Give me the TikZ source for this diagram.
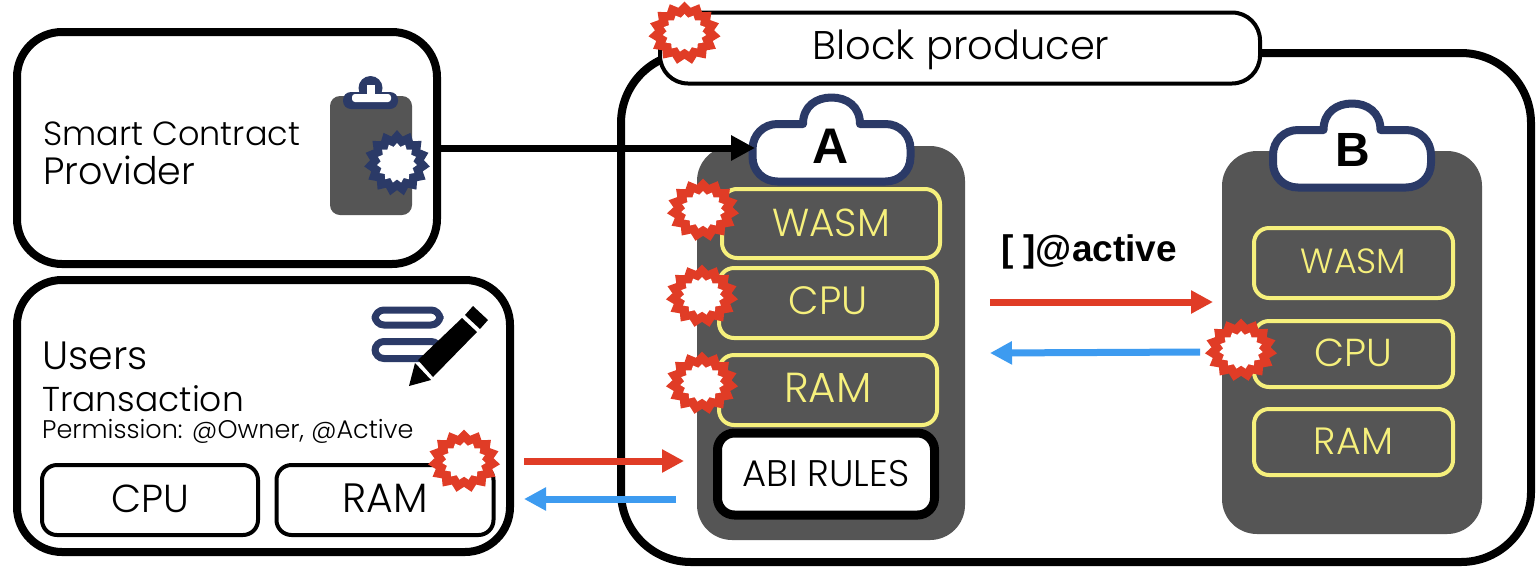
\documentclass[tikz,border=0pt]{standalone}
\usepackage{fontspec}
\setmainfont{Poppins Light}
\newfontfamily\boldf{Liberation Sans}[BoldFont=* Bold]
\usetikzlibrary{arrows.meta,shapes.geometric}
\definecolor{navy}{HTML}{2B3A67}
\definecolor{panel}{HTML}{555555}
\definecolor{burstred}{HTML}{E03C26}
\definecolor{arrowblue}{HTML}{3D9BF0}
\definecolor{softyellow}{HTML}{F6F07C}
\newcommand\fs[1]{\fontsize{#1}{#1}\selectfont}
\newcommand\up[1]{\raisebox{#1pt}}
\newcommand\cloudshape{(-28.5,0) -- (-54,0) .. controls (-68,0) and (-79,11) .. (-79,25) -- (-79,33) .. controls (-79,47) and (-68,57.5) .. (-54,57.5) -- (54,57.5) .. controls (68,57.5) and (79,47) .. (79,33) -- (79,25) .. controls (79,11) and (68,0) .. (54,0) -- (28.5,0) .. controls (28.5,-18) and (15,-26.5) .. (0,-26.5) .. controls (-15,-26.5) and (-28.5,-18) .. (-28.5,0) -- cycle}
\tikzset{
  x=1pt,y=-1pt,
  bigbox/.style={draw=black,line width=8pt,fill=white,rectangle,inner sep=0pt},
  smallbox/.style={draw=black,line width=4pt,fill=white,rectangle,rounded corners=15pt,inner sep=0pt,text=black},
  yelbox/.style={draw=softyellow,line width=4pt,fill=panel,rectangle,rounded corners=15pt,inner sep=0pt,text=softyellow},
  panelbox/.style={fill=panel,rectangle,rounded corners=35pt,inner sep=0pt},
  burstred/.style={star,star points=15,star point ratio=1.22,inner sep=0pt,transform shape,xscale=1.15},
  burstnavy/.style={star,star points=15,star point ratio=1.22,inner sep=0pt},
  cloudline/.style={draw=navy,line width=8pt,fill=white,line join=round},
  redarrow/.style={draw=burstred,line width=7pt,-{Triangle[length=22pt,width=22pt]}},
  bluearrow/.style={draw=arrowblue,line width=7pt,-{Triangle[length=22pt,width=22pt]}},
  blackarrow/.style={draw=black,line width=7pt,-{Triangle[length=24pt,width=24pt]}},
  pill/.style={draw=navy,line width=7pt,rectangle,rounded corners=9pt,inner sep=0pt,minimum width=65pt},
  txt/.style={inner sep=0pt,anchor=base west,text=black},
}
\begin{document}
\begin{tikzpicture}
\useasboundingbox (0,0) rectangle (1538,574);
% outer boxes
\node[bigbox,rounded corners=45pt,minimum width=420pt,minimum height=232pt] (contract) at (227,148) {};
\node[bigbox,rounded corners=45pt,minimum width=493pt,minimum height=272pt] (users) at (263.5,416) {};
\node[bigbox,rounded corners=70pt,minimum width=910pt,minimum height=509pt] (producer) at (1076,307.5) {};
\node[draw=black,line width=4pt,fill=white,rectangle,rounded corners=28pt,inner sep=0pt,minimum width=600pt,minimum height=71pt] (plabel) at (960,48) {};
\node[inner sep=0pt,font=\fs{40}] (ptext) at (961,50) {Block producer};
% panels
\node[panelbox,minimum width=268pt,minimum height=394pt] (panelA) at (831,343) {};
\node[panelbox,minimum width=260pt,minimum height=383pt] (panelB) at (1352,342.5) {};
% clouds
\draw[cloudline,shift={(831.5,124)}] \cloudshape;
\draw[cloudline,shift={(1352,130)}] \cloudshape;
\node[inner sep=0pt,font=\boldf\bfseries\fs{50}] (labelA) at (831,146) {A};
\node[inner sep=0pt,font=\boldf\bfseries\fs{48}] (labelB) at (1353,150) {B};
\coordinate (cloudAwest) at (755,148);
% yellow boxes
\node[yelbox,minimum width=218pt,minimum height=69pt,font=\fs{39}] (wasmA) at (831,223.5) {\up{1}{WASM}};
\node[yelbox,minimum width=218pt,minimum height=70pt,font=\fs{39.5}] (cpuA) at (828,303) {\up{4}{CPU}};
\node[yelbox,minimum width=218pt,minimum height=70pt,font=\fs{42}] (ramA) at (828,390) {\up{4}{RAM}};
\node[draw=black,line width=9pt,fill=white,rectangle,rounded corners=17pt,inner sep=0pt,minimum width=217pt,minimum height=82pt,font=\fs{37}] (abi) at (826,474) {\up{1}{ABI RULES}};
\node[yelbox,minimum width=199pt,minimum height=70pt,font=\fs{35}] (wasmB) at (1353.5,263) {\up{3}{WASM}};
\node[yelbox,minimum width=199pt,minimum height=66pt,font=\fs{39}] (cpuB) at (1353.5,354) {\up{2}{CPU}};
\node[yelbox,minimum width=199pt,minimum height=66pt,font=\fs{38}] (ramB) at (1353.5,442) {\up{2}{RAM}};
% clipboard
\node[fill=panel,rectangle,rounded corners=10pt,inner sep=0pt,minimum width=82pt,minimum height=119pt] (board) at (371,155.5) {};
\fill[navy] (370.5,88) circle (12);
\node[fill=navy,rectangle,rounded corners=8pt,inner sep=0pt,minimum width=55pt,minimum height=17pt] (clipbase) at (370.5,100.5) {};
\node[fill=white,rectangle,rounded corners=3pt,inner sep=0pt,minimum width=39pt,minimum height=8pt] (cliphole) at (371.5,98) {};
\node[fill=white,rectangle,inner sep=0pt,minimum width=8pt,minimum height=10pt] (clipstem) at (371,90) {};
% user text
\node[txt,font=\fs{33.5}] (t1) at (43,145) {Smart Contract};
\node[txt,font=\fs{38}] (t2) at (43,184) {Provider};
\node[txt,font=\fs{39.5}] (t3) at (42,369) {Users};
\node[txt,font=\fs{34.5}] (t4) at (42,411) {Transaction};
\node[txt,font=\fs{25.5}] (t5) at (42,438) {Permission: @Owner, @Active};
\node[smallbox,minimum width=216pt,minimum height=70pt,font=\fs{39}] (cpuU) at (150,500) {\up{3}{CPU}};
\node[smallbox,minimum width=217pt,minimum height=70pt,font=\fs{41}] (ramU) at (385,500) {\up{3}{RAM}};
% note icon
\node[pill,minimum height=15pt] (pill1) at (407.5,317.5) {};
\node[pill,minimum height=17pt] (pill2) at (407.5,350) {};
\fill[black] (409,386) -- (415,363) -- (431,380) -- cycle;
\fill[black] (418,360) -- (462,318) -- (477,332) -- (433,377) -- cycle;
\fill[black] (465,315) -- (473,306) -- (488,320) -- (480,329) -- cycle;
% arrows
\coordinate (blackstart) at (440,148);
\coordinate (r1a) at (990,302);
\coordinate (r1b) at (1213,302);
\coordinate (b1a) at (1200,352);
\coordinate (b1b) at (990,353);
\coordinate (r2a) at (524,461);
\coordinate (r2b) at (684,461);
\coordinate (b2a) at (676,499);
\coordinate (b2b) at (524,499);
\draw[blackarrow] (blackstart) -- (cloudAwest);
\draw[redarrow] (r1a) -- (r1b);
\draw[bluearrow] (b1a) -- (b1b);
\draw[redarrow] (r2a) -- (r2b);
\draw[bluearrow] (b2a) -- (b2b);
\node[inner sep=0pt,font=\boldf\bfseries\fs{37}] (active) at (1089,252) {[ ]@active};
% bursts
\foreach \n/\cx/\cy in {a/684.5/33,b/703/210,c/702/296,d/702/383,e/1241/350,f/464/461}{
  \node[burstred,fill=burstred,minimum size=63pt] (out\n) at (\cx,\cy) {};
  \node[burstred,fill=white,minimum size=38pt] (in\n) at (\cx,\cy) {};
}
\node[burstnavy,fill=navy,minimum size=66pt] (outg) at (397,163) {};
\node[burstnavy,fill=white,minimum size=40pt] (ing) at (397,163) {};
\end{tikzpicture}
\end{document}
